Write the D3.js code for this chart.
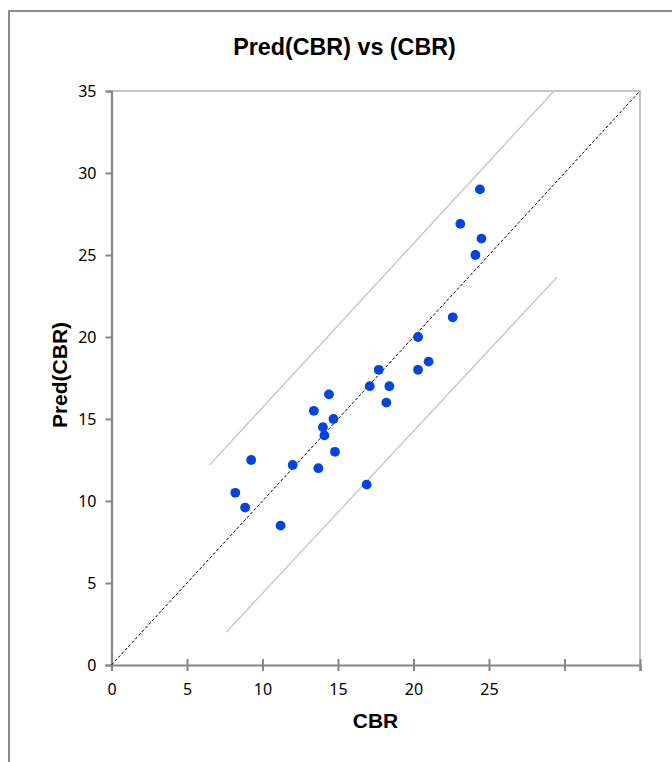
<!DOCTYPE html>
<html>
<head>
<meta charset="utf-8">
<script src="https://cdn.jsdelivr.net/npm/d3@7/dist/d3.min.js"></script>
<style>
  html, body { margin: 0; padding: 0; background: #fff; }
  svg { display: block; }
</style>
</head>
<body>
<svg id="chart" width="672" height="762"></svg>
<script>
// ---- data ----
const cbr = [8.2, 8.85, 9.25, 11.2, 12.0, 13.4, 13.7, 14.0, 14.1, 14.4, 14.7, 14.8, 16.9, 17.1, 17.7, 18.2, 18.4, 20.3, 20.3, 21.0, 22.6, 23.1, 24.1, 24.4, 24.5];
const predCbr = [10.5, 9.6, 12.5, 8.5, 12.2, 15.5, 12.0, 14.5, 14.0, 16.5, 15.0, 13.0, 11.0, 17.0, 18.0, 16.0, 17.0, 20.0, 18.0, 18.5, 21.2, 26.9, 25.0, 29.0, 26.0];
const xTicks = [0, 5, 10, 15, 20, 25, 30, 35];
const xTickLabels = ["0", "5", "10", "15", "20", "25", "", ""];
const yTicks = [0, 5, 10, 15, 20, 25, 30, 35];
const lineOfEquality = [[0, 0], [35, 35]];
const upperBand = [[6.5, 12.2], [29.3, 35]];
const lowerBand = [[7.6, 2.0], [29.5, 23.65]];

(function () {
// ---- layout ----
const svg = d3.select("#chart");
const pLeft = 111.5, pRight = 640, pTop = 91, pBottom = 665;
const x = d3.scaleLinear().domain([0, 35]).range([pLeft, pRight]);
const y = d3.scaleLinear().domain([0, 35]).range([pBottom, pTop]);
const font = "'Liberation Sans', Arial, sans-serif";
const tickFont = "'Noto Sans', 'Open Sans', sans-serif";

// outer frame
svg.append("path")
  .attr("d", "M9,762 L9,11 L672,11")
  .attr("fill", "none").attr("stroke", "#8c8c8c").attr("stroke-width", 2);

// plot area top/right borders
svg.append("path")
  .attr("d", `M${pLeft},${pTop} L${pRight},${pTop} L${pRight},${pBottom}`)
  .attr("fill", "none").attr("stroke", "#c6c6c6").attr("stroke-width", 2);

// title
svg.append("text").attr("x", 344.5).attr("y", 55)
  .attr("text-anchor", "middle").attr("font-family", font)
  .attr("font-weight", "bold").attr("font-size", 23.3).attr("fill", "#000")
  .text("Pred(CBR) vs (CBR)");

// y axis
const yAxis = d3.axisLeft(y).tickValues(yTicks).tickSize(6).tickPadding(9);
const gy = svg.append("g").attr("transform", `translate(${pLeft},0)`).call(yAxis);
gy.select(".domain").attr("stroke", "#868686").attr("stroke-width", 2.2);
gy.selectAll(".tick line").attr("stroke", "#868686").attr("stroke-width", 2);
gy.selectAll(".tick text").attr("font-family", tickFont).attr("font-size", 16).attr("fill", "#000");

// x axis
const xAxis = d3.axisBottom(x).tickValues(xTicks)
  .tickFormat((d, i) => xTickLabels[i]).tickSize(6).tickPadding(13);
const gx = svg.append("g").attr("transform", `translate(0,${pBottom})`).call(xAxis);
gx.select(".domain").attr("stroke", "#868686").attr("stroke-width", 2.2);
gx.selectAll(".tick line").attr("stroke", "#868686").attr("stroke-width", 2).attr("y1", -6);
gx.selectAll(".tick text").attr("font-family", tickFont).attr("font-size", 16).attr("fill", "#000");

// axis titles
svg.append("text").attr("x", 375.5).attr("y", 728)
  .attr("text-anchor", "middle").attr("font-family", font)
  .attr("font-weight", "bold").attr("font-size", 21).attr("fill", "#000")
  .text("CBR");
svg.append("text")
  .attr("transform", "translate(67,375) rotate(-90)")
  .attr("text-anchor", "middle").attr("font-family", font)
  .attr("font-weight", "bold").attr("font-size", 21).attr("fill", "#000")
  .text("Pred(CBR)");

// lines
const line = d3.line().x(d => x(d[0])).y(d => y(d[1]));
svg.append("path").datum(upperBand).attr("d", line)
  .attr("fill", "none").attr("stroke", "#c4c4c4").attr("stroke-width", 1.3);
svg.append("path").datum(lowerBand).attr("d", line)
  .attr("fill", "none").attr("stroke", "#c4c4c4").attr("stroke-width", 1.3);
svg.append("path").datum(lineOfEquality).attr("d", line)
  .attr("fill", "none").attr("stroke", "#000").attr("stroke-width", 1)
  .attr("stroke-dasharray", "3,2");

// points
svg.append("g").selectAll("circle")
  .data(cbr.map((v, i) => [v, predCbr[i]]))
  .join("circle")
  .attr("cx", d => x(d[0])).attr("cy", d => y(d[1]))
  .attr("r", 4.9).attr("fill", "#0343df");
})();
</script>
</body>
</html>
